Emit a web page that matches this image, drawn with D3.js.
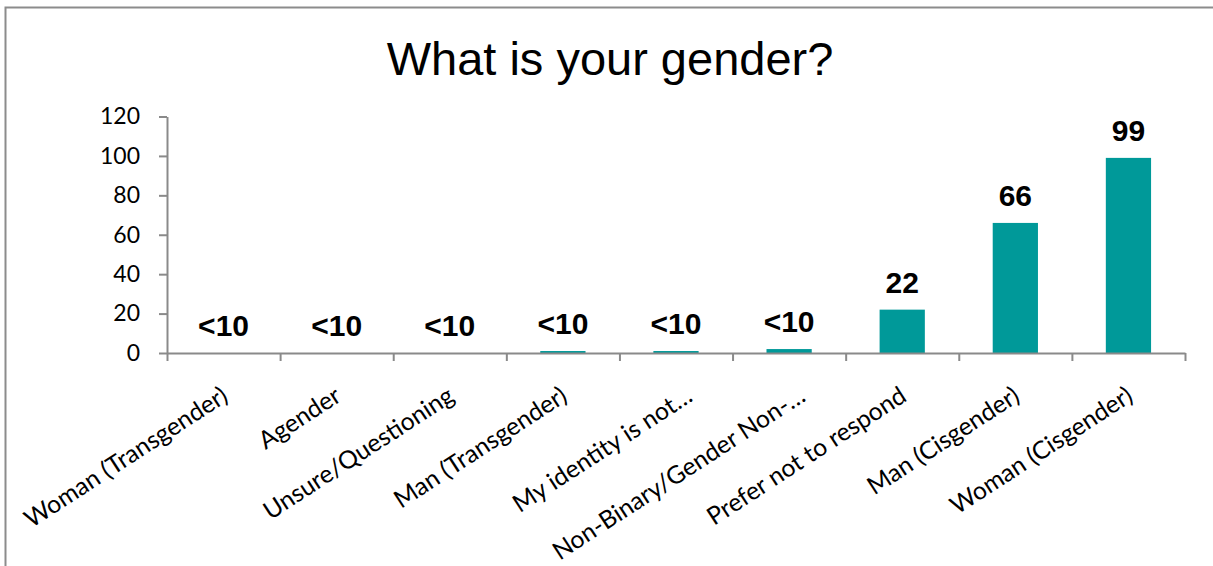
<!DOCTYPE html>
<html>
<head>
<meta charset="utf-8">
<script src="https://cdn.jsdelivr.net/npm/d3@7"></script>
<style>
  html, body { margin: 0; padding: 0; background: #ffffff; }
  svg { display: block; }
</style>
</head>
<body>
<svg id="chart" width="1213" height="566"></svg>
<script>
// Survey responses: "What is your gender?"
const categories = [
  "Woman (Transgender)",
  "Agender",
  "Unsure/Questioning",
  "Man (Transgender)",
  "My identity is not…",
  "Non-Binary/Gender Non-…",
  "Prefer not to respond",
  "Man (Cisgender)",
  "Woman (Cisgender)"
];
const counts = [0, 0, 0, 1, 1, 2, 22, 66, 99];
const countLabels = ["<10", "<10", "<10", "<10", "<10", "<10", "22", "66", "99"];
const yTickValues = [0, 20, 40, 60, 80, 100, 120];
const chartTitle = "What is your gender?";

const svg = d3.select("#chart");
const W = 1213, H = 566;
const margin = { left: 167, right: 28, top: 116.5, bottom: 213 };
const plotRight = W - margin.right;
const plotBottom = H - margin.bottom;

const axisColor = "#8a8a8a";
const barColor = "#009999";

// Outer chart frame (only left and top edges fall inside the view)
svg.append("path")
  .attr("d", `M5.5,${H} L5.5,7.5 L${W},7.5`)
  .attr("fill", "none")
  .attr("stroke", "#8c8c8c")
  .attr("stroke-width", 2);

// Title
svg.append("text")
  .attr("x", 610)
  .attr("y", 75)
  .attr("text-anchor", "middle")
  .attr("font-family", "Liberation Sans, Arial, sans-serif")
  .attr("font-size", 47)
  .attr("fill", "#000")
  .text(chartTitle);

// Scales
const x = d3.scaleBand()
  .domain(categories)
  .range([margin.left, plotRight])
  .paddingInner(0.6)
  .paddingOuter(0.3);

const y = d3.scaleLinear()
  .domain([0, 120])
  .range([plotBottom, margin.top]);

// Category boundary ticks on the x axis
const xEdges = d3.scaleLinear()
  .domain([0, categories.length])
  .range([margin.left, plotRight]);

// Bars
svg.append("g")
  .selectAll("rect")
  .data(categories)
  .join("rect")
  .attr("x", d => x(d))
  .attr("width", x.bandwidth())
  .attr("y", (d, i) => y(counts[i]))
  .attr("height", (d, i) => y(0) - y(counts[i]))
  .attr("fill", barColor);

// Y axis
const yAxis = svg.append("g")
  .attr("transform", `translate(${margin.left},0)`)
  .call(d3.axisLeft(y).tickValues(yTickValues).tickSize(8).tickSizeOuter(0).tickPadding(19));
yAxis.select(".domain").attr("stroke", axisColor).attr("stroke-width", 2);
yAxis.selectAll(".tick line").attr("stroke", axisColor).attr("stroke-width", 2);
yAxis.selectAll(".tick text")
  .attr("font-family", "Lato, Open Sans, sans-serif")
  .attr("font-size", 23)
  .attr("fill", "#000");

// X axis line with category boundary ticks
const xAxis = svg.append("g")
  .attr("transform", `translate(0,${plotBottom})`)
  .call(d3.axisBottom(xEdges).tickValues(d3.range(categories.length + 1))
    .tickSize(8).tickSizeOuter(0).tickFormat(""));
xAxis.select(".domain").attr("stroke", axisColor).attr("stroke-width", 2);
xAxis.selectAll(".tick line").attr("stroke", axisColor).attr("stroke-width", 2);

// Rotated category labels (truncated names sit a little further right)
const labelAnchorX = d => x(d) + x.bandwidth() / 2 + (d.endsWith("…") ? 18 : 6);
svg.append("g")
  .selectAll("text")
  .data(categories)
  .join("text")
  .attr("transform", d => `translate(${labelAnchorX(d)},${plotBottom + 47}) rotate(-33)`)
  .attr("text-anchor", "end")
  .attr("font-family", "Lato, Open Sans, sans-serif")
  .attr("font-size", 24.7)
  .attr("fill", "#000")
  .text(d => d);

// Value labels above bars
svg.append("g")
  .selectAll("text")
  .data(categories)
  .join("text")
  .attr("x", d => x(d) + x.bandwidth() / 2)
  .attr("y", (d, i) => y(counts[i]) - 17)
  .attr("text-anchor", "middle")
  .attr("font-family", "Liberation Sans, Arial, sans-serif")
  .attr("font-weight", "bold")
  .attr("font-size", 30)
  .attr("fill", "#000")
  .text((d, i) => countLabels[i]);
</script>
</body>
</html>
